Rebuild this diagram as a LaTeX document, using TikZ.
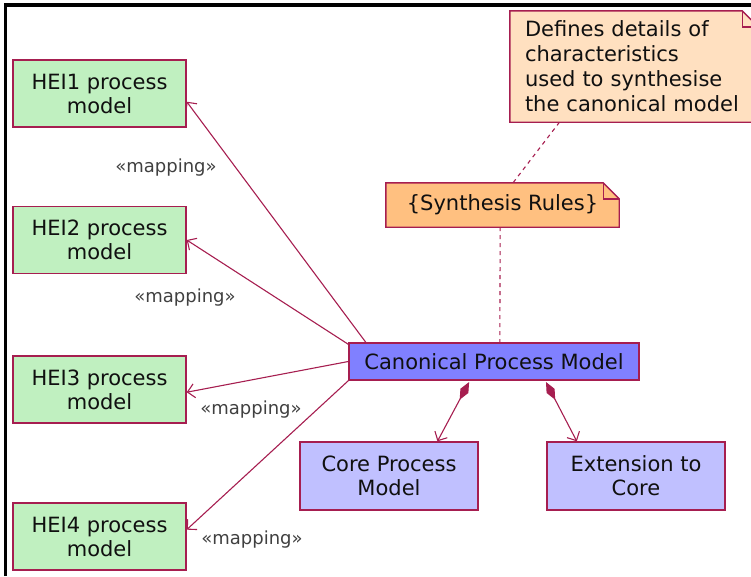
\documentclass[tikz,border=0pt]{standalone}
\usepackage{fontspec}
\setmainfont{DejaVu Sans}
\usetikzlibrary{arrows.meta,calc,backgrounds}

\definecolor{edge}{HTML}{A61E50}
\definecolor{heifill}{HTML}{C0F0C0}
\definecolor{canonfill}{HTML}{8080FF}
\definecolor{partfill}{HTML}{C0C0FF}
\definecolor{rulefill}{HTML}{FFC080}
\definecolor{notefill}{HTML}{FFE0C0}
\definecolor{labelgray}{HTML}{404040}
\definecolor{ink}{HTML}{101010}

\tikzset{
  box/.style={draw=edge, line width=1.4pt, rectangle, inner sep=0pt,
    align=center, text=ink, font=\fontsize{21}{24}\selectfont},
  heibox/.style={box, fill=heifill, minimum width=173pt, minimum height=67pt},
  canonbox/.style={box, fill=canonfill, minimum width=290pt, minimum height=37pt},
  partbox/.style={box, fill=partfill, minimum width=178pt, minimum height=68pt},
  notebox/.style={rectangle, inner sep=0pt, text=ink, font=\fontsize{21}{25}\selectfont},
  notefold/.style={draw=edge, line width=1.4pt},
  mapping/.style={draw=edge, line width=1.1pt, -{Straight Barb[length=7pt,width=14pt,line width=1.1pt]}},
  compose/.style={draw=edge, line width=1.1pt,
    {Diamond[length=20pt,width=9pt,fill=edge]}-{Straight Barb[length=7pt,width=14pt,line width=1.1pt]}},
  anchorline/.style={draw=edge, line width=1.1pt, dash pattern=on 4pt off 4pt},
  stereo/.style={text=labelgray, font=\fontsize{18}{20}\selectfont, inner sep=0pt}
}

\begin{document}
\begin{tikzpicture}[x=1pt, y=-1pt]
\useasboundingbox (0,0) rectangle (751,576);

% window frame
\draw[line width=3.3pt] (5.6,576) -- (5.6,4.9) -- (751,4.9);

% process models of the institutions
\node[heibox] (h1) at (99.5,93.5)  {HEI1 process\\model};
\node[heibox] (h2) at (99.5,240)   {HEI2 process\\model};
\node[heibox] (h3) at (99.5,389.5) {HEI3 process\\model};
\node[heibox] (h4) at (99.5,536.5) {HEI4 process\\model};

% canonical model and its parts
\node[canonbox] (cpm) at (494,361.5) {Canonical Process Model};
\node[partbox] (core) at (389,476) {Core Process\\Model};
\node[partbox] (ext)  at (636,476) {Extension to\\Core};

% notes
\node[notebox, minimum width=248pt, minimum height=111pt, text width=218pt, align=left]
  (dn) at (634,66.5) {Defines details of\\characteristics\\used to synthesise\\the canonical model};
\node[notebox, minimum width=233pt, minimum height=44pt] (sr) at (502.5,205) {\{Synthesis Rules\}};

\begin{scope}[on background layer]
  \filldraw[notefold, fill=notefill]
    (dn.south west) -- (dn.north west) -- ($(dn.north east)+(-16,0)$)
    -- ($(dn.north east)+(0,16)$) -- (dn.south east) -- cycle;
  \draw[notefold] ($(dn.north east)+(-16,0)$) -- ($(dn.north east)+(-16,16)$) -- ($(dn.north east)+(0,16)$);
  \filldraw[notefold, fill=rulefill]
    (sr.south west) -- (sr.north west) -- ($(sr.north east)+(-16,0)$)
    -- ($(sr.north east)+(0,16)$) -- (sr.south east) -- cycle;
  \draw[notefold] ($(sr.north east)+(-16,0)$) -- ($(sr.north east)+(-16,16)$) -- ($(sr.north east)+(0,16)$);
\end{scope}

% note anchors
\draw[anchorline] ($(dn.south west)!0.2!(dn.south east)$) -- ($(sr.north west)!0.545!(sr.north east)$);
\draw[anchorline] ($(sr.south west)!0.49!(sr.south east)$) -- ($(cpm.north west)!0.52!(cpm.north east)$);

% mappings
\draw[mapping] ($(cpm.north west)!0.06!(cpm.north east)$) -- ($(h1.north east)!0.62!(h1.south east)$);
\draw[mapping] ($(cpm.north west)+(0,2)$) -- (h2.east);
\draw[mapping] (cpm.west) -- ($(h3.north east)!0.54!(h3.south east)$);
\draw[mapping] (cpm.south west) -- ($(h4.north east)!0.4!(h4.south east)$);

\node[stereo] (m1) at (166,168) {«mapping»};
\node[stereo] (m2) at (185,298) {«mapping»};
\node[stereo] (m3) at (251,410) {«mapping»};
\node[stereo] (m4) at (252,540) {«mapping»};

% composition
\draw[compose, shorten <=1.5pt] ($(cpm.south west)!0.417!(cpm.south east)$) -- ($(core.north west)!0.77!(core.north east)$);
\draw[compose, shorten <=1.5pt] ($(cpm.south west)!0.676!(cpm.south east)$) -- ($(ext.north west)!0.17!(ext.north east)$);
\end{tikzpicture}
\end{document}
